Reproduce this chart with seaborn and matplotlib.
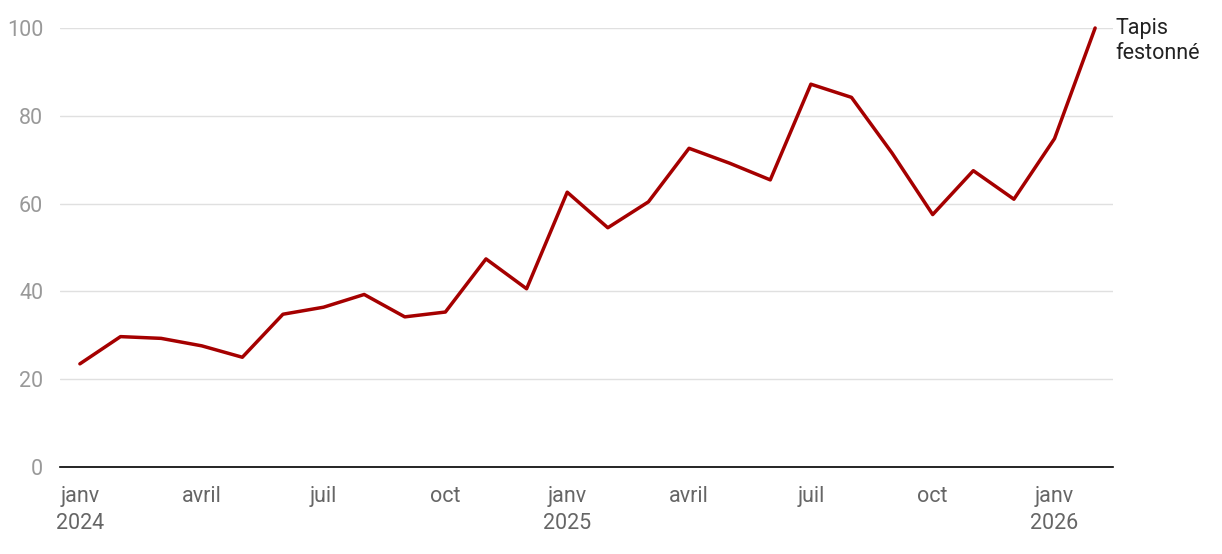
import matplotlib
matplotlib.use("Agg")
import matplotlib.pyplot as plt
import seaborn as sns
import pandas as pd

months = list(range(26))
values = [23.5, 29.7, 29.3, 27.6, 25.0, 34.8, 36.4, 39.3, 34.2, 35.3, 47.4, 40.6,
          62.6, 54.5, 60.4, 72.6, 69.2, 65.4, 87.2, 84.2, 71.5, 57.5, 67.5, 61.0,
          74.8, 100.0]
tick_pos = [0, 3, 6, 9, 12, 15, 18, 21, 24]
tick_labels = ["janv\n2024", "avril", "juil", "oct", "janv\n2025", "avril", "juil", "oct", "janv\n2026"]
series_name = "Tapis\nfestonné"

sns.set_theme(style="white")
plt.rcParams['font.family'] = ['Roboto', 'DejaVu Sans']

fig = plt.figure(figsize=(12.22, 5.54), dpi=100)
ax = fig.add_axes([60/1222, 1-467/554, (1113-60)/1222, (467-28)/554])
df = pd.DataFrame({"m": months, "v": values})
sns.lineplot(data=df, x="m", y="v", ax=ax, color="#a50000", linewidth=2.5, clip_on=False)
ax.set_xlim(-0.49, 25.44)
ax.set_ylim(0, 100)
ax.set_yticks([0, 20, 40, 60, 80, 100])
ax.yaxis.grid(True, color="#e0e0e0", linewidth=1)
ax.set_xticks(tick_pos)
ax.set_xticklabels(tick_labels, ha="center", va="top", linespacing=1.35)
ax.tick_params(axis="x", colors="#666666", labelsize=15.5, length=0, pad=14)
ax.tick_params(axis="y", colors="#999999", labelsize=15.5, length=0, pad=12)
for s in ["top", "right", "left"]:
    ax.spines[s].set_visible(False)
ax.spines["bottom"].set_color("#000000")
ax.spines["bottom"].set_linewidth(1.2)
ax.set_xlabel("")
ax.set_ylabel("")
ax.text(25.5, 102.3, series_name, fontsize=15.5, color="#222222", va="top", ha="left",
        linespacing=1.25, clip_on=False)
fig.savefig("out.png", dpi=100)
